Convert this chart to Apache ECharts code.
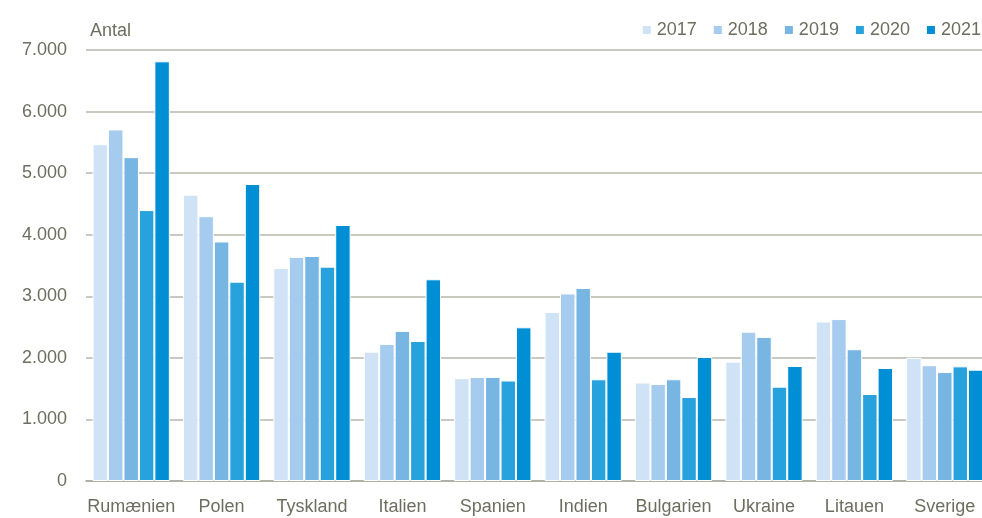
<!DOCTYPE html>
<html><head><meta charset="utf-8">
<script src="https://cdn.jsdelivr.net/npm/echarts@6/dist/echarts.min.js"></script>
<style>html,body{margin:0;padding:0;background:#fff;overflow:hidden}#c{width:990px;height:518px}</style>
</head><body><div id="c"></div>
<script>
const categories = ['Rumænien','Polen','Tyskland','Italien','Spanien','Indien','Bulgarien','Ukraine','Litauen','Sverige'];
const years = ['2017','2018','2019','2020','2021'];
const v2017 = [5470, 4650, 3460, 2100, 1670, 2745, 1600, 1938, 2590, 2000];
const v2018 = [5710, 4300, 3640, 2225, 1690, 3045, 1575, 2425, 2630, 1880];
const v2019 = [5260, 3890, 3655, 2436, 1690, 3135, 1652, 2340, 2140, 1770];
const v2020 = [4400, 3237, 3481, 2274, 1632, 1652, 1364, 1532, 1413, 1862];
const v2021 = [6816, 4824, 4158, 3276, 2496, 2100, 2014, 1868, 1835, 1808];
const yTicks = [0, 1000, 2000, 3000, 4000, 5000, 6000, 7000];
const seriesValues = [v2017, v2018, v2019, v2020, v2021];
const colors = ['#cfe2f6', '#a5cbee', '#77b5e3', '#28a2dd', '#008fd5'];
const textColor = '#6e6e60';
const font = '"Liberation Sans", Arial, sans-serif';

const chart = echarts.init(document.getElementById('c'));
chart.setOption({
  animation: false,
  textStyle: { fontFamily: font },
  title: { text: 'Antal', left: 85, top: 17, textStyle: { fontFamily: font, fontSize: 18, fontWeight: 'normal', color: textColor } },
  legend: {
    right: 4, top: 16, itemWidth: 10, itemHeight: 10, itemGap: 15,
    icon: 'rect',
    textStyle: { fontFamily: font, fontSize: 18, color: textColor },
    data: years
  },
  grid: { left: 86, right: 0, top: 50, bottom: 37, containLabel: false },
  xAxis: {
    type: 'category', data: categories,
    axisLine: { lineStyle: { color: '#a9a89c', width: 1.5 } },
    axisTick: { show: false },
    axisLabel: { interval: 0, fontSize: 18, color: textColor, margin: 17, fontFamily: font }
  },
  yAxis: {
    type: 'value', min: yTicks[0], max: yTicks[yTicks.length - 1], interval: 1000,
    axisLine: { show: false }, axisTick: { show: false },
    splitLine: { lineStyle: { color: '#b9b7aa', width: 1.5 } },
    axisLabel: {
      fontSize: 18, color: textColor, margin: 19, fontFamily: font,
      formatter: v => String(v).replace(/\B(?=(\d{3})+(?!\d))/g, '.')
    }
  },
  series: seriesValues.map((vals, i) => ({
    name: years[i], type: 'bar', data: vals,
    barGap: '0%', barCategoryGap: '14.5%',
    itemStyle: { color: colors[i], borderColor: '#ffffff', borderWidth: 1 }
  }))
});
</script></body></html>
